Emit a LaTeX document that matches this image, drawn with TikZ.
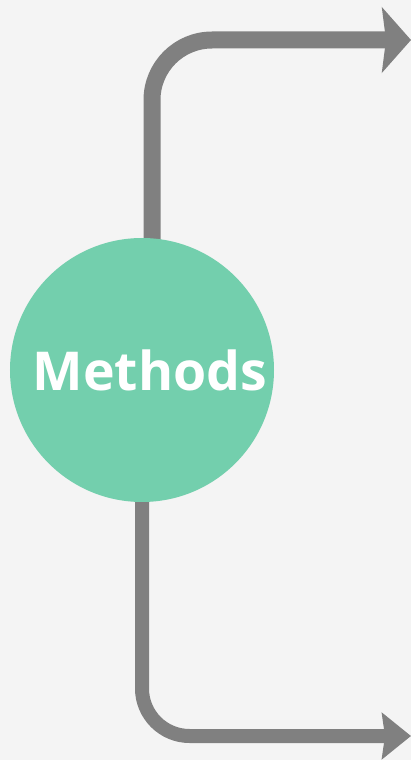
\documentclass[tikz,border=0pt]{standalone}
\usepackage{tikz}
\usetikzlibrary{arrows.meta,calc,backgrounds}
\usepackage{xcolor}
\usepackage{fontspec}
\setmainfont{Open Sans}
\definecolor{canvas}{HTML}{F4F4F4}
\definecolor{mint}{HTML}{73CFAD}
\definecolor{branch}{HTML}{808080}

\begin{document}
\begin{tikzpicture}
  \useasboundingbox (0,0) rectangle (8.22,15.2);
  % Central hub
  \node[circle, fill=mint, minimum size=5.28cm, inner sep=0pt, text=white,
        font=\fontsize{30.5}{36}\selectfont\bfseries] (methods) at (2.84,7.8) {\hspace{0.32cm}Methods};
  % Loose ends of the two branches
  \coordinate (outTop) at (8.22,14.4);
  \coordinate (outBot) at (8.22,0.48);
  \begin{scope}[on background layer]
    \fill[canvas] (0,0) rectangle (8.22,15.2);
    % Upper branch
    \draw[branch, line width=0.34cm, rounded corners=1.2cm,
          -{Stealth[length=0.58cm, width=1.3cm, inset=0.08cm]}]
      ($(methods.center)+(0.2,0)$) |- (outTop);
    % Lower branch
    \draw[branch, line width=0.28cm, rounded corners=0.95cm,
          -{Stealth[length=0.58cm, width=0.92cm, inset=0.06cm]}]
      (methods.center) |- (outBot);
  \end{scope}
\end{tikzpicture}
\end{document}
